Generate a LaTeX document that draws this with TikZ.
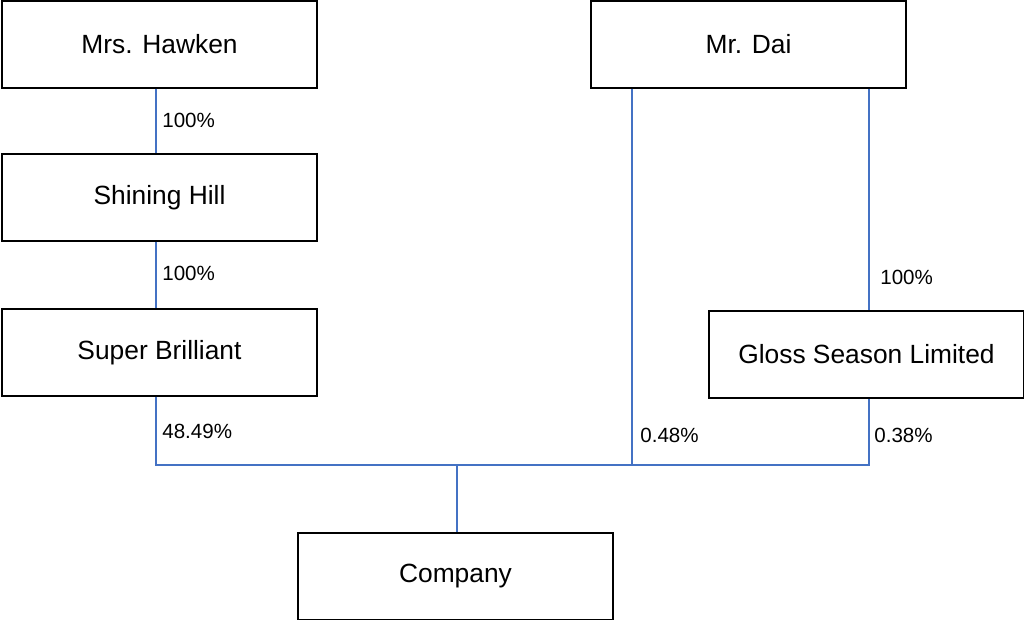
\documentclass[tikz,border=0pt]{standalone}
\usepackage{fontspec}
\setmainfont{Liberation Sans}
\usetikzlibrary{positioning}
\definecolor{linkblue}{RGB}{68,114,196}

\begin{document}
\begin{tikzpicture}[x=0.02cm,y=-0.02cm,
   holder/.style={draw=black,line width=0.7pt,minimum width=6.3cm,minimum height=1.74cm,
      inner sep=0pt,font=\fontsize{15}{18}\selectfont},
   link/.style={draw=linkblue,line width=0.7pt},
   share/.style={anchor=west,inner sep=0pt,font=\fontsize{11.7}{14}\selectfont}]

\useasboundingbox (0,0) rectangle (1024,619);

\node[holder] (hawken)    at (159.5, 44.5) {Mrs. Hawken};
\node[holder] (shining)   at (159.5,197.5) {Shining Hill};
\node[holder] (brilliant) at (159.5,352.5) {Super Brilliant};
\node[holder] (dai)       at (748.5, 44.5) {Mr. Dai};
\node[holder] (gloss)     at (866.5,354.5) {Gloss Season Limited};
\node[holder] (company)   at (455.5,576.5) {Company};

% junctions on the common bar
\coordinate (sb) at (156,465);
\coordinate (dl) at (632,465);
\coordinate (gl) at (869,465);
\coordinate (co) at (457,465);

\draw[link] (hawken.south -| sb) -- (shining.north -| sb);
\draw[link] (shining.south -| sb) -- (brilliant.north -| sb);
\draw[link] (brilliant.south -| sb) -- (sb) -- (gl) -- (gloss.south -| gl);
\draw[link] (dai.south -| dl) -- (dl);
\draw[link] (dai.south -| gl) -- (gloss.north -| gl);
\draw[link] (co) -- (company.north -| co);

\node[share] (p1) at (162,120) {100\%};
\node[share] (p2) at (162,273) {100\%};
\node[share] (p3) at (162,431) {48.49\%};
\node[share] (p4) at (880,277) {100\%};
\node[share] (p5) at (640,435) {0.48\%};
\node[share] (p6) at (874,435) {0.38\%};

\end{tikzpicture}
\end{document}
